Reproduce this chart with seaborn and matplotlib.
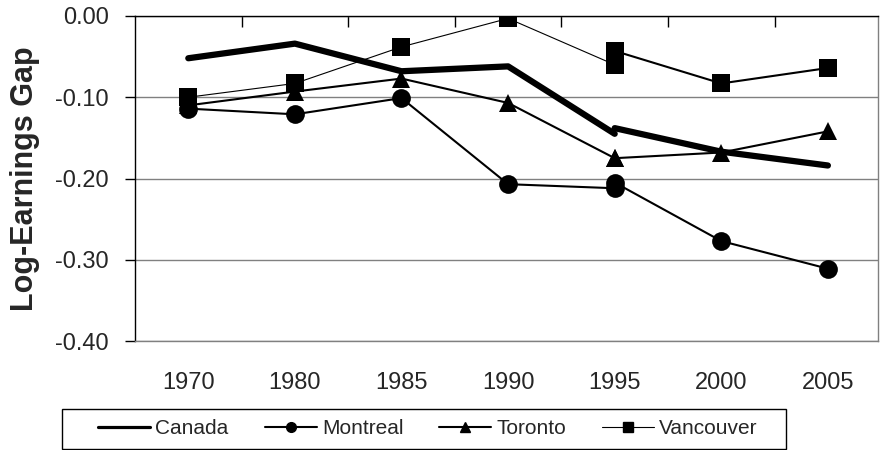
import numpy as np
import pandas as pd
import seaborn as sns
import matplotlib.pyplot as plt
from matplotlib.lines import Line2D
from matplotlib.patches import Rectangle

# census years on the category axis; 1995 carries two values (old and new series)
years = ["1970", "1980", "1985", "1990", "1995", "2000", "2005"]
early_years = ["1970", "1980", "1985", "1990", "1995"]
late_years = ["1995", "2000", "2005"]
yticks = [-0.40, -0.30, -0.20, -0.10, 0.00]
ytick_labels = ["-0.40", "-0.30", "-0.20", "-0.10", "0.00"]

canada_early = [-0.052, -0.034, -0.068, -0.062, -0.145]
canada_late = [-0.138, -0.167, -0.184]
montreal_early = [-0.114, -0.121, -0.101, -0.207, -0.212]
montreal_late = [-0.205, -0.277, -0.311]
toronto_early = [-0.110, -0.093, -0.077, -0.107, -0.175]
toronto_late = [-0.175, -0.168, -0.142]
vancouver_early = [-0.100, -0.083, -0.038, -0.003, -0.060]
vancouver_late = [-0.043, -0.083, -0.064]

cities = ["Canada", "Montreal", "Toronto", "Vancouver"]
series = {
    "Canada": (canada_early, canada_late),
    "Montreal": (montreal_early, montreal_late),
    "Toronto": (toronto_early, toronto_late),
    "Vancouver": (vancouver_early, vancouver_late),
}

rows = []
for city in cities:
    early, late = series[city]
    for yr, v in zip(early_years, early):
        rows.append((city, "early", years.index(yr), v))
    for yr, v in zip(late_years, late):
        rows.append((city, "late", years.index(yr), v))
df = pd.DataFrame(rows, columns=["city", "segment", "pos", "gap"])

markers = {"Canada": None, "Montreal": "o", "Toronto": "^", "Vancouver": "s"}
widths = {
    ("Canada", "early"): 4.5, ("Canada", "late"): 4.5,
    ("Montreal", "early"): 1.5, ("Montreal", "late"): 1.5,
    ("Toronto", "early"): 1.5, ("Toronto", "late"): 1.5,
    ("Vancouver", "early"): 0.8, ("Vancouver", "late"): 1.5,
}

sns.set_style("white")
plt.rcParams['font.family'] = ['Liberation Sans', 'DejaVu Sans']

fig = plt.figure(figsize=(8.8, 4.5), dpi=100)
ax = fig.add_axes([135 / 880, 1 - 341 / 450, (878 - 135) / 880, (341 - 16) / 450])

for (city, seg), sub in df.groupby(["city", "segment"], sort=False):
    sns.lineplot(data=sub, x="pos", y="gap", ax=ax, color="black",
                 linewidth=widths[(city, seg)], marker=markers[city],
                 markersize=13.5, markeredgewidth=0, estimator=None,
                 sort=False, legend=False, solid_capstyle="round", zorder=3)

ax.set_xlim(-0.5, 6.47)
ax.set_ylim(-0.40, 0.0)
ax.set_yticks(yticks)
ax.set_yticklabels(ytick_labels)
ax.set_xticks(range(len(years)))
ax.set_xticklabels(years)
ax.set_xticks(np.arange(0.5, 6, 1.0), minor=True)
ax.yaxis.grid(True, color="#808080", linewidth=1)
ax.set_axisbelow(True)

ax.tick_params(axis="x", which="major", length=0, labelsize=17, pad=22)
ax.tick_params(axis="x", which="minor", bottom=False, top=True,
               direction="in", length=8, width=1, color="black")
ax.tick_params(axis="y", which="major", left=True, direction="out",
               length=7, width=1, color="black", labelsize=17, pad=12)

ax.spines["left"].set_color("black")
ax.spines["top"].set_color("black")
ax.spines["right"].set_color("#808080")
ax.spines["bottom"].set_color("#808080")
for s in ax.spines.values():
    s.set_linewidth(1)
    s.set_visible(True)

ax.set_xlabel("")
ax.set_ylabel("Log-Earnings Gap", fontsize=22, fontweight="bold", labelpad=11)

handles = [
    Line2D([], [], color="black", linewidth=2.3),
    Line2D([], [], color="black", linewidth=1.5, marker="o", markersize=7),
    Line2D([], [], color="black", linewidth=1.5, marker="^", markersize=7),
    Line2D([], [], color="black", linewidth=0.8, marker="s", markersize=7),
]
fig.legend(handles, cities, loc="center", ncol=4,
           bbox_to_anchor=(428 / 880, 1 - 429 / 450),
           borderaxespad=0, fontsize=15, frameon=False,
           handlelength=2.5, handletextpad=0.25, columnspacing=1.72)
fig.patches.append(Rectangle((62 / 880, 1 - 449 / 450), 724 / 880, 40 / 450,
                             transform=fig.transFigure, fill=False,
                             edgecolor="black", linewidth=1))

fig.savefig("out.png", dpi=100)
